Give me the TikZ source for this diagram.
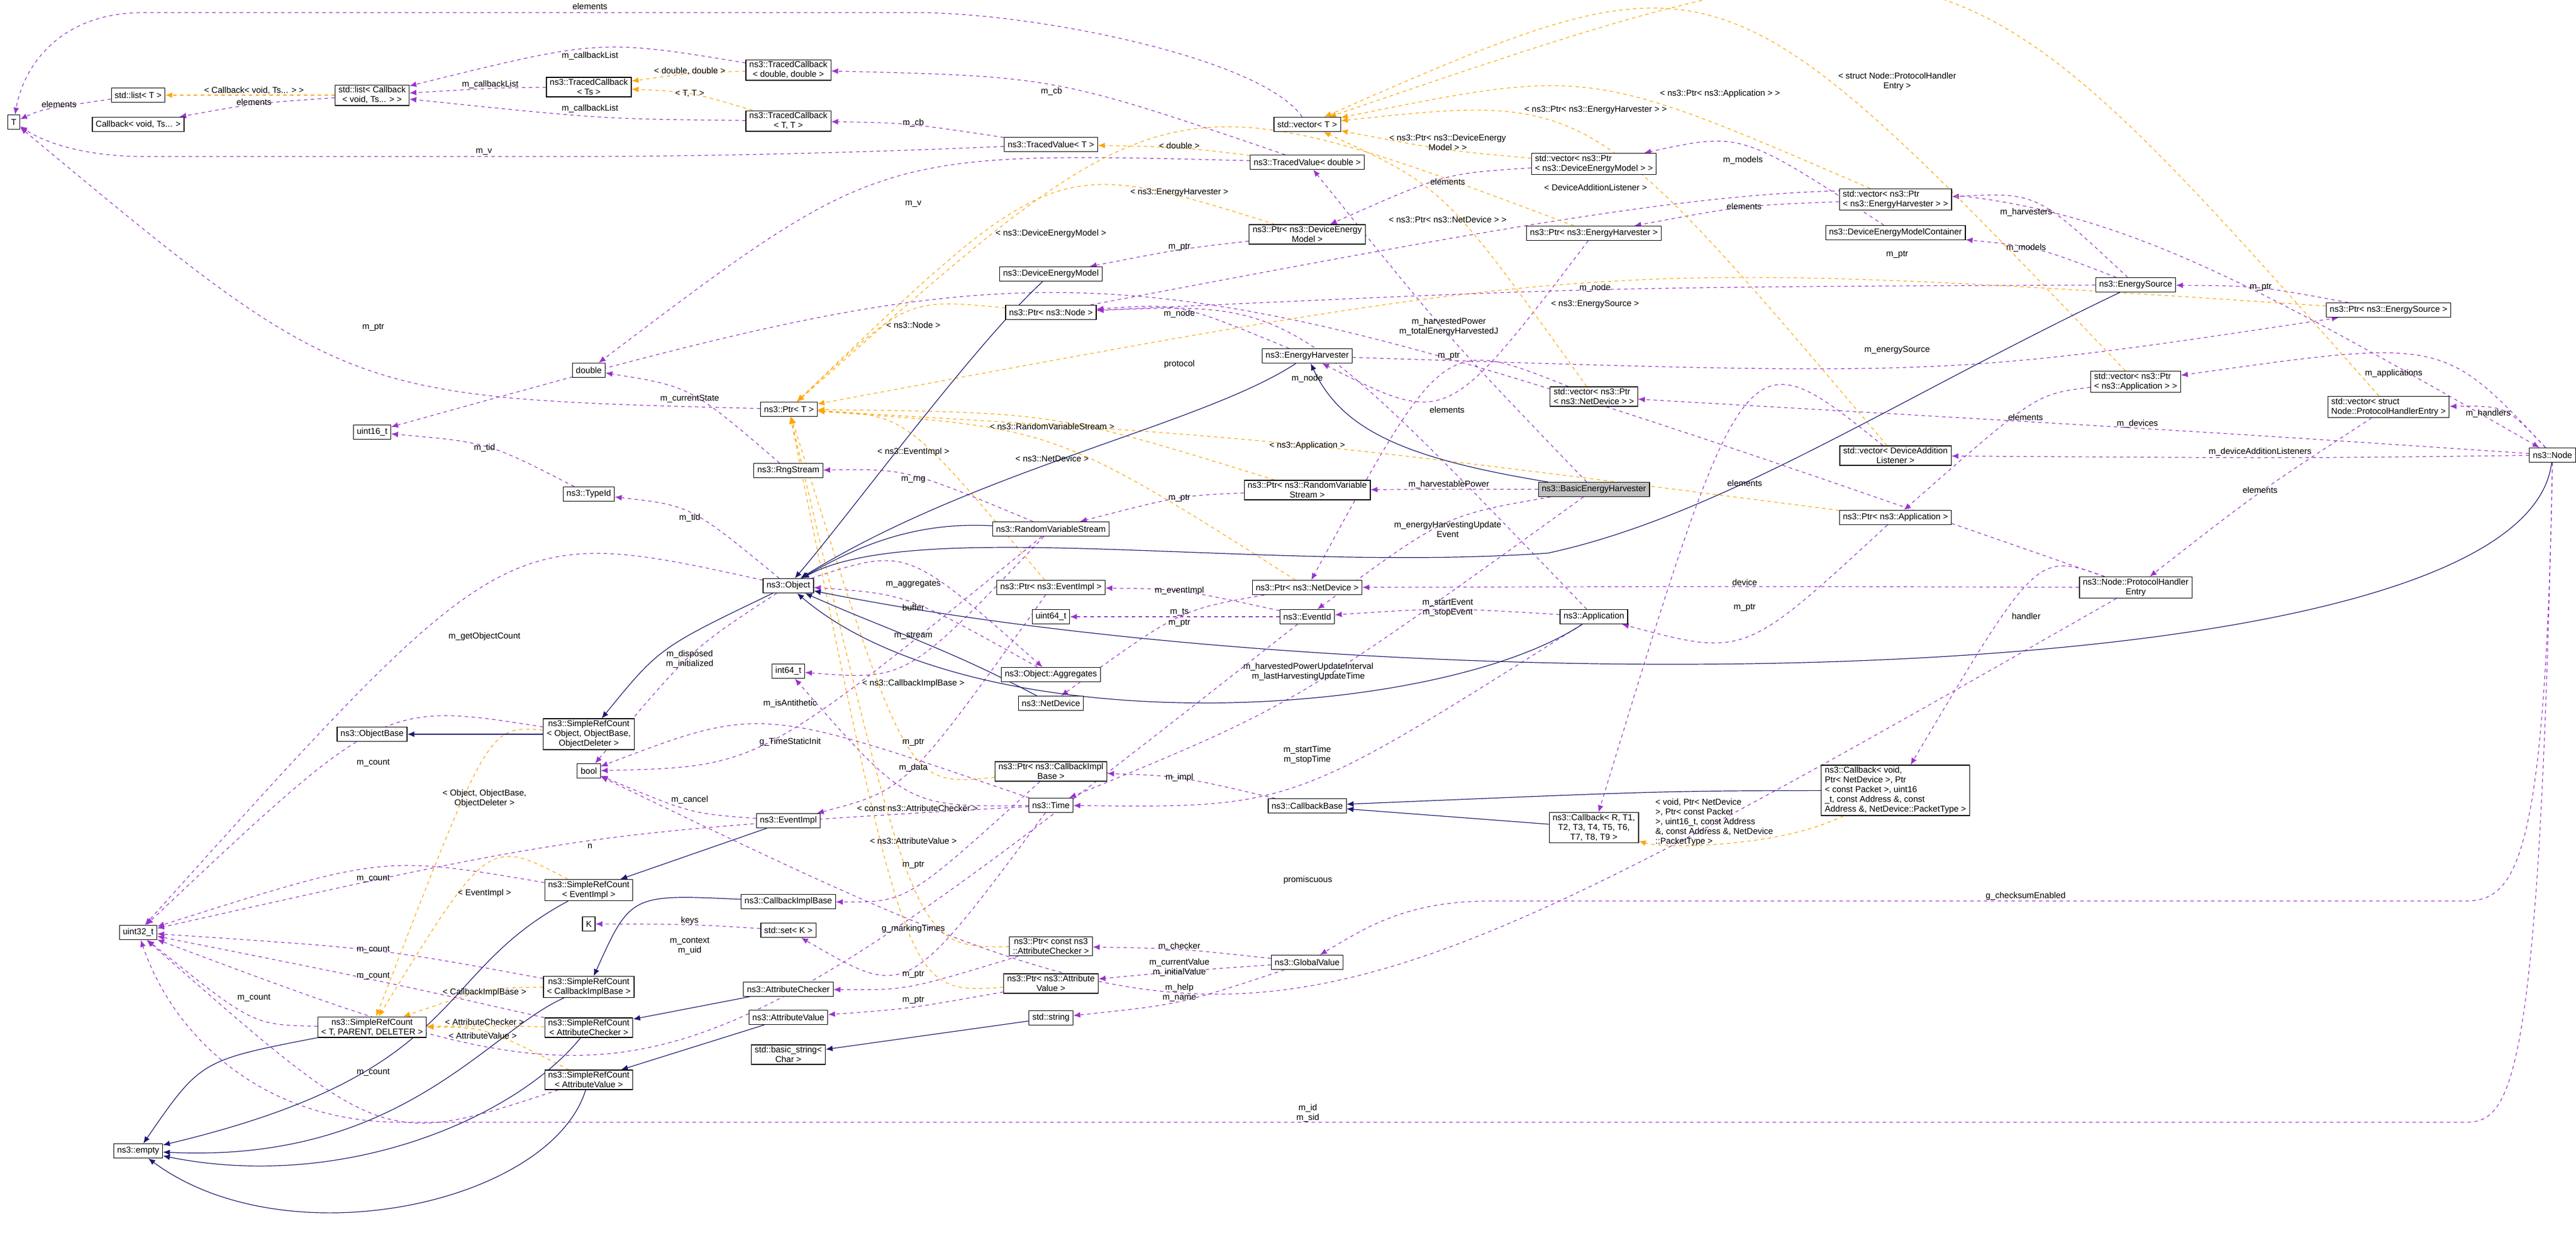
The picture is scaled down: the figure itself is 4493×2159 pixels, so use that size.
\documentclass[tikz,border=0pt]{standalone}
\usepackage{fontspec}
\setmainfont{Liberation Sans}
\usetikzlibrary{arrows.meta,calc}
\definecolor{pu}{HTML}{9A32CD}
\definecolor{orr}{HTML}{FFA500}
\definecolor{bl}{HTML}{191970}
\pgfdeclarelayer{bg}\pgfsetlayers{bg,main}
\tikzset{
 cls/.style={draw, fill=white, line width=0.6pt, font=\fontsize{7.5}{8.5}\selectfont, align=center, inner xsep=3pt, inner ysep=1.5pt, minimum height=12.5pt},
 lbl/.style={font=\fontsize{7.5}{8.5}\selectfont, align=center, inner sep=0.5pt},
 use/.style={draw=pu, dashed, line width=0.6pt, -{Latex[length=6pt,width=5pt]}},
 tpl/.style={draw=orr, dashed, line width=0.6pt, -{Latex[length=6pt,width=5pt]}},
 inh/.style={draw=bl, line width=0.6pt, -{Latex[length=6pt,width=5pt]}}
}
\newcommand{\E}[5]{\begin{pgfonlayer}{bg}\draw[#1] (#2) .. controls ($2*(#4)+(0,16)-0.5*(#2)-0.5*(#3)$) .. (#3);\end{pgfonlayer}\node[lbl] at (#4) {#5};}
\begin{document}
\begin{tikzpicture}[x=0.5pt,y=-0.5pt]
\useasboundingbox (0,0) rectangle (4493,2159);
\node[cls] (T) at (24,213) {T};
\node[cls] (listT) at (241,166) {std::list< T >};
\node[cls] (cbv) at (241,217) {Callback< void, Ts... >};
\node[cls] (listcb) at (649,166) {std::list< Callback\\< void, Ts... > >};
\node[cls] (tcts) at (1027,152) {ns3::TracedCallback\\< Ts >};
\node[cls] (tcdd) at (1375,122) {ns3::TracedCallback\\< double, double >};
\node[cls] (tctt) at (1375,211) {ns3::TracedCallback\\< T, T >};
\node[cls] (dbl) at (1027,646) {double};
\node[cls] (ptrT) at (1376,714) {ns3::Ptr< T >};
\node[cls] (vecT) at (2280,217) {std::vector< T >};
\node[cls] (tvT) at (1833,252) {ns3::TracedValue< T >};
\node[cls] (tvd) at (2280,283) {ns3::TracedValue< double >};
\node[cls,align=left] (vdem) at (2780,286) {std::vector< ns3::Ptr\\< ns3::DeviceEnergyModel > >};
\node[cls] (pdem) at (2280,409) {ns3::Ptr< ns3::DeviceEnergy\\Model >};
\node[cls] (peh) at (2780,407) {ns3::Ptr< ns3::EnergyHarvester >};
\node[cls] (dem) at (1833,478) {ns3::DeviceEnergyModel};
\node[cls] (pnode) at (1833,545) {ns3::Ptr< ns3::Node >};
\node[cls] (eh) at (2280,621) {ns3::EnergyHarvester};
\node[cls,align=left] (vnd) at (2780,692) {std::vector< ns3::Ptr\\< ns3::NetDevice > >};
\node[cls,align=left] (veh) at (3306,348) {std::vector< ns3::Ptr\\< ns3::EnergyHarvester > >};
\node[cls] (demc) at (3306,406) {ns3::DeviceEnergyModelContainer};
\node[cls] (es) at (3725,497) {ns3::EnergySource};
\node[cls] (pes) at (4166,541) {ns3::Ptr< ns3::EnergySource >};
\node[cls,align=left] (vapp) at (3725,666) {std::vector< ns3::Ptr\\< ns3::Application > >};
\node[cls,align=left] (vphe) at (4166,710) {std::vector< struct\\ Node::ProtocolHandlerEntry >};
\node[cls] (u16) at (649,754) {uint16\_t};
\node[cls] (rng) at (1375,821) {ns3::RngStream};
\node[cls] (tid) at (1027,862) {ns3::TypeId};
\node[cls] (obj) at (1375,1022) {ns3::Object};
\node[cls] (i64) at (1375,1171) {int64\_t};
\node[cls] (objb) at (649,1281) {ns3::ObjectBase};
\node[cls] (srco) at (1027,1281) {ns3::SimpleRefCount\\< Object, ObjectBase,\\ObjectDeleter >};
\node[cls] (bool) at (1027,1345) {bool};
\node[cls] (evimpl) at (1375,1432) {ns3::EventImpl};
\node[cls] (prvs) at (2280,855) {ns3::Ptr< ns3::RandomVariable\\Stream >};
\node[cls,fill=black!25] (beh) at (2780,854) {ns3::BasicEnergyHarvester};
\node[cls] (rvs) at (1833,923) {ns3::RandomVariableStream};
\node[cls] (pevi) at (1833,1025) {ns3::Ptr< ns3::EventImpl >};
\node[cls] (pnd) at (2280,1025) {ns3::Ptr< ns3::NetDevice >};
\node[cls] (u64) at (1833,1076) {uint64\_t};
\node[cls] (evid) at (2280,1076) {ns3::EventId};
\node[cls] (app) at (2780,1076) {ns3::Application};
\node[cls] (agg) at (1833,1177) {ns3::Object::Aggregates};
\node[cls] (nd) at (1833,1227) {ns3::NetDevice};
\node[cls] (pcbi) at (1833,1346) {ns3::Ptr< ns3::CallbackImpl\\Base >};
\node[cls] (time) at (1833,1405) {ns3::Time};
\node[cls] (cbb) at (2280,1406) {ns3::CallbackBase};
\node[cls] (cbr) at (2780,1444) {ns3::Callback< R, T1,\\T2, T3, T4, T5, T6,\\T7, T8, T9 >};
\node[cls] (node) at (4452,794) {ns3::Node};
\node[cls] (vdal) at (3306,795) {std::vector< DeviceAddition\\Listener >};
\node[cls] (papp) at (3306,903) {ns3::Ptr< ns3::Application >};
\node[cls] (phe) at (3725,1025) {ns3::Node::ProtocolHandler\\Entry};
\node[cls,align=left] (cbvp) at (3306,1379) {ns3::Callback< void,\\ Ptr< NetDevice >, Ptr\\< const Packet >, uint16\\\_t, const Address \&, const\\ Address \&, NetDevice::PacketType >};
\node[cls] (u32) at (241,1627) {uint32\_t};
\node[cls] (srcev) at (1027,1553) {ns3::SimpleRefCount\\< EventImpl >};
\node[cls] (cbib) at (1375,1573) {ns3::CallbackImplBase};
\node[cls] (K) at (1027,1612) {K};
\node[cls] (setk) at (1375,1623) {std::set< K >};
\node[cls] (srccb) at (1027,1722) {ns3::SimpleRefCount\\< CallbackImplBase >};
\node[cls] (ac) at (1375,1726) {ns3::AttributeChecker};
\node[cls] (srct) at (649,1792) {ns3::SimpleRefCount\\< T, PARENT, DELETER >};
\node[cls] (srcac) at (1027,1793) {ns3::SimpleRefCount\\< AttributeChecker >};
\node[cls] (av) at (1375,1775) {ns3::AttributeValue};
\node[cls] (bstr) at (1375,1840) {std::basic\_string<\\ Char >};
\node[cls] (srcav) at (1027,1884) {ns3::SimpleRefCount\\< AttributeValue >};
\node[cls] (empty) at (241,2008) {ns3::empty};
\node[cls] (pcac) at (1833,1651) {ns3::Ptr< const ns3\\::AttributeChecker >};
\node[cls] (gv) at (2280,1679) {ns3::GlobalValue};
\node[cls] (pav) at (1833,1716) {ns3::Ptr< ns3::Attribute\\Value >};
\node[cls] (str) at (1833,1776) {std::string};

% usage
\begin{pgfonlayer}{bg}
\draw[use] (vecT) .. controls (2200,100) and (1800,22) .. (1600,22) -- (250,22) .. controls (100,22) and (40,120) .. (T);
\draw[use] (tvT) .. controls (1600,262) and (1300,273) .. (1000,273) -- (250,273) .. controls (150,273) and (80,250) .. (T);
\draw[use] (node) .. controls (4430,1900) and (4380,1958) .. (4300,1958) -- (700,1958) .. controls (450,1958) and (300,1800) .. (u32);
\draw[use] (node) .. controls (4440,1500) and (4390,1572) .. (4300,1572) -- (2600,1572) .. controls (2450,1572) and (2380,1620) .. (gv);
\end{pgfonlayer}
\node[lbl] at (1029,11) {elements};
\node[lbl] at (844,265) {m\_v};
\node[lbl] at (2281,1942) {m\_id\\m\_sid};
\node[lbl] at (3533,1564) {g\_checksumEnabled};
\E{use}{listT}{T}{103,182}{elements}
\E{use}{listcb}{cbv}{443,178}{elements}
\E{use}{tcdd}{listcb}{1029,98}{m\_callbackList}
\E{use}{tcts}{listcb}{855,148}{m\_callbackList}
\E{use}{tctt}{listcb}{1029,190}{m\_callbackList}
\E{use}{tvT}{tctt}{1593,215}{m\_cb}
\E{use}{tvd}{tcdd}{1834,160}{m\_cb}
\E{use}{tvd}{dbl}{1593,356}{m\_v}
\E{use}{ptrT}{T}{651,571}{m\_ptr}
\E{use}{rng}{dbl}{1203,696}{m\_currentState}
\E{use}{pdem}{dem}{2057,431}{m\_ptr}
\E{use}{vdem}{pdem}{2525,317}{elements}
\E{use}{demc}{vdem}{3040,280}{m\_models}
\E{use}{es}{demc}{3534,433}{m\_models}
\E{use}{es}{veh}{3534,371}{m\_harvesters}
\E{use}{veh}{peh}{3042,360}{elements}
\E{use}{peh}{eh}{2527,621}{m\_ptr}
\E{use}{es}{pnode}{2782,503}{m\_node}
\E{use}{eh}{pnode}{2057,548}{m\_node}
\E{use}{pnode}{node}{3309,444}{m\_ptr}
\E{use}{pes}{es}{3943,501}{m\_ptr}
\E{use}{eh}{pes}{3309,611}{m\_energySource}
\E{use}{phe}{u16}{2057,636}{protocol}
\E{use}{app}{pnode}{2280,661}{m\_node}
\E{use}{vnd}{pnd}{2524,715}{elements}
\E{use}{node}{vnd}{3728,740}{m\_devices}
\E{use}{node}{vapp}{4175,652}{m\_applications}
\E{use}{node}{vphe}{4340,722}{m\_handlers}
\E{use}{node}{vdal}{3942,789}{m\_deviceAdditionListeners}
\E{use}{vapp}{papp}{3533,728}{elements}
\E{use}{vdal}{cbr}{3043,843}{elements}
\E{use}{vphe}{phe}{3942,855}{elements}
\E{use}{phe}{pnd}{3043,1016}{device}
\E{use}{papp}{app}{3043,1060}{m\_ptr}
\E{use}{phe}{cbvp}{3534,1075}{handler}
\E{use}{phe}{bool}{2281,1536}{promiscuous}
\E{use}{gv}{pcac}{2057,1652}{m\_checker}
\E{use}{gv}{pav}{2057,1688}{m\_currentValue\\m\_initialValue}
\E{use}{gv}{str}{2057,1732}{m\_help\\m\_name}
\E{use}{beh}{prvs}{2527,846}{m\_harvestablePower}
\E{use}{prvs}{rvs}{2057,869}{m\_ptr}
\E{use}{beh}{evid}{2525,924}{m\_energyHarvestingUpdate\\Event}
\E{use}{beh}{time}{2282,1172}{m\_harvestedPowerUpdateInterval\\m\_lastHarvestingUpdateTime}
\E{use}{beh}{tvd}{2527,570}{m\_harvestedPower\\m\_totalEnergyHarvestedJ}
\E{use}{evid}{pevi}{2057,1031}{m\_eventImpl}
\E{use}{evid}{u64}{2057,1068}{m\_ts}
\E{use}{evid}{u32}{1203,1651}{m\_context\\m\_uid}
\E{use}{pnd}{nd}{2057,1087}{m\_ptr}
\E{use}{app}{evid}{2525,1060}{m\_startEvent\\m\_stopEvent}
\E{use}{app}{time}{2280,1317}{m\_startTime\\m\_stopTime}
\E{use}{cbb}{pcbi}{2057,1357}{m\_impl}
\E{use}{rvs}{rng}{1593,837}{m\_rng}
\E{use}{tid}{u16}{845,782}{m\_tid}
\E{use}{obj}{tid}{1203,904}{m\_tid}
\E{use}{obj}{u32}{845,1111}{m\_getObjectCount}
\E{use}{obj}{bool}{1203,1150}{m\_disposed\\m\_initialized}
\E{use}{obj}{agg}{1593,1019}{m\_aggregates}
\E{use}{agg}{obj}{1593,1060}{buffer}
\E{use}{rvs}{i64}{1593,1109}{m\_stream}
\E{use}{rvs}{bool}{1378,1228}{m\_isAntithetic}
\E{use}{time}{bool}{1378,1295}{g\_TimeStaticInit}
\E{use}{evimpl}{bool}{1203,1396}{m\_cancel}
\E{use}{pevi}{evimpl}{1593,1295}{m\_ptr}
\E{use}{time}{i64}{1593,1340}{m\_data}
\E{use}{pcbi}{cbib}{1593,1509}{m\_ptr}
\E{use}{pcac}{ac}{1593,1700}{m\_ptr}
\E{use}{pav}{av}{1593,1745}{m\_ptr}
\E{use}{time}{setk}{1593,1621}{g\_markingTimes}
\E{use}{setk}{K}{1203,1607}{keys}
\E{use}{srcev}{u32}{651,1533}{m\_count}
\E{use}{srccb}{u32}{651,1657}{m\_count}
\E{use}{srcac}{u32}{651,1703}{m\_count}
\E{use}{srct}{u32}{443,1741}{m\_count}
\E{use}{srcav}{u32}{651,1871}{m\_count}
\E{use}{srco}{u32}{651,1331}{m\_count}
\E{use}{time}{u32}{1029,1476}{n}

% templates
\E{tpl}{listcb}{listT}{443,158}{< Callback< void, Ts... > >}
\E{tpl}{tcdd}{tcts}{1203,124}{< double, double >}
\E{tpl}{tctt}{tcts}{1203,163}{< T, T >}
\E{tpl}{tvd}{tvT}{2057,254}{< double >}
\E{tpl}{vdem}{vecT}{2525,249}{< ns3::Ptr< ns3::DeviceEnergy\\Model > >}
\E{tpl}{veh}{vecT}{2783,192}{< ns3::Ptr< ns3::EnergyHarvester > >}
\E{tpl}{vapp}{vecT}{3000,164}{< ns3::Ptr< ns3::Application > >}
\E{tpl}{vphe}{vecT}{3309,142}{< struct Node::ProtocolHandler\\Entry >}
\E{tpl}{vdal}{vecT}{2783,327}{< DeviceAdditionListener >}
\E{tpl}{vnd}{vecT}{2525,383}{< ns3::Ptr< ns3::NetDevice > >}
\E{tpl}{peh}{ptrT}{2057,336}{< ns3::EnergyHarvester >}
\E{tpl}{pdem}{ptrT}{1833,408}{< ns3::DeviceEnergyModel >}
\E{tpl}{pnode}{ptrT}{1593,567}{< ns3::Node >}
\E{tpl}{pes}{ptrT}{2782,531}{< ns3::EnergySource >}
\E{tpl}{prvs}{ptrT}{1835,744}{< ns3::RandomVariableStream >}
\E{tpl}{papp}{ptrT}{2280,778}{< ns3::Application >}
\E{tpl}{pevi}{ptrT}{1593,789}{< ns3::EventImpl >}
\E{tpl}{pnd}{ptrT}{1835,800}{< ns3::NetDevice >}
\E{tpl}{pcbi}{ptrT}{1593,1193}{< ns3::CallbackImplBase >}
\E{tpl}{pcac}{ptrT}{1600,1410}{< const ns3::AttributeChecker >}
\E{tpl}{pav}{ptrT}{1593,1467}{< ns3::AttributeValue >}
\begin{pgfonlayer}{bg}
\draw[tpl] (cbvp) .. controls (3100,1480) and (2900,1480) .. (cbr);
\end{pgfonlayer}
\node[lbl,align=left] at (2990,1435) {< void, Ptr< NetDevice\\>, Ptr< const Packet\\>, uint16\_t, const Address\\\&, const Address \&, NetDevice\\::PacketType >};
\E{tpl}{srco}{srct}{845,1393}{< Object, ObjectBase,\\ObjectDeleter >}
\E{tpl}{srcev}{srct}{845,1559}{< EventImpl >}
\E{tpl}{srccb}{srct}{845,1732}{< CallbackImplBase >}
\E{tpl}{srcac}{srct}{845,1783}{< AttributeChecker >}
\E{tpl}{srcav}{srct}{842,1807}{< AttributeValue >}

% inheritance
\begin{pgfonlayer}{bg}
\draw[inh] (dem) .. controls (1700,600) and (1480,900) .. (obj);
\draw[inh] (es) .. controls (3300,700) and (3000,900) .. (2700,965) .. controls (2200,1000) and (1600,900) .. (obj);
\draw[inh] (eh) .. controls (2100,740) and (1700,820) .. (obj);
\draw[inh] (beh) .. controls (2450,800) and (2340,750) .. (eh);
\draw[inh] (rvs) .. controls (1600,910) and (1500,950) .. (obj);
\draw[inh] (app) .. controls (2500,1260) and (1700,1300) .. (obj);
\draw[inh] (nd) .. controls (1650,1130) and (1550,1100) .. (obj);
\draw[inh] (node) .. controls (4400,1228) and (2400,1228) .. (obj);
\draw[inh] (obj) .. controls (1150,1130) .. (srco);
\draw[inh] (srco) -- (objb);
\draw[inh] (evimpl) -- (srcev);
\draw[inh] (cbib) .. controls (1100,1560) .. (srccb);
\draw[inh] (ac) -- (srcac);
\draw[inh] (av) -- (srcav);
\draw[inh] (str) -- (bstr);
\draw[inh] (cbr) -- (cbb);
\draw[inh] (cbvp) .. controls (2900,1380) .. (cbb);
\draw[inh] (srct) .. controls (350,1850) .. (empty);
\draw[inh] (srcev) .. controls (750,1700) and (820,1870) .. (empty);
\draw[inh] (srccb) .. controls (850,1800) and (700,2030) .. (empty);
\draw[inh] (srcac) .. controls (900,1950) and (600,2080) .. (empty);
\draw[inh] (srcav) .. controls (960,2100) and (500,2200) .. (empty);
\end{pgfonlayer}
\end{tikzpicture}
\end{document}
